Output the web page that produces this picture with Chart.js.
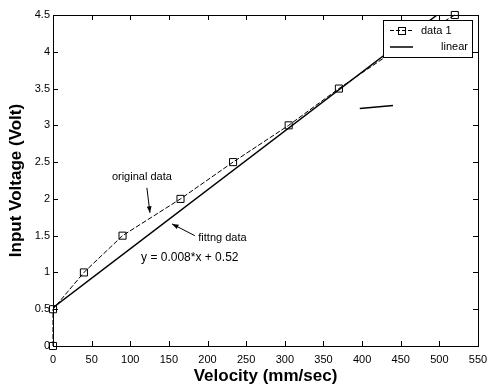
<!DOCTYPE html>
<html>
<head>
<meta charset="utf-8">
<script src="https://cdn.jsdelivr.net/npm/chart.js@4/dist/chart.umd.min.js"></script>
<style>
	body { margin: 0; background: #fff; }
	#caja { width: 488px; height: 387px; }
</style>
</head>
<body>
<div id="caja"><canvas id="GraficoVelocidad"></canvas></div>
<script>
// datos
var velocidad = [0, 0, 40, 90, 165, 233, 305, 370, 440, 520];
var voltaje = [0, 0.5, 1.0, 1.5, 2.0, 2.5, 3.0, 3.5, 4.0, 4.5];
// recta de ajuste y = 0.008*x + 0.52
var ajusteX = [0, 497];
var ajusteY = [0.52, 4.5];
// trazo suelto a la derecha
var trazoX = [397, 440];
var trazoY = [3.23, 3.27];
// ticks
var ticksX = [0, 50, 100, 150, 200, 250, 300, 350, 400, 450, 500, 550];
var ticksY = [0, 0.5, 1, 1.5, 2, 2.5, 3, 3.5, 4, 4.5];
var etiquetasY = ['0', '0.5', '1', '1.5', '2', '2.5', '3', '3.5', '4', '4.5'];
var nombresLeyenda = ['data 1', 'linear'];

var fuente = "'Liberation Sans', Arial, sans-serif";

function puntos(xs, ys) {
	var arr = [];
	for (var i = 0; i < xs.length; i++) arr.push({x: xs[i], y: ys[i]});
	return arr;
}

function flecha(ctx, x1, y1, x2, y2) {
	var ang = Math.atan2(y2 - y1, x2 - x1);
	ctx.beginPath();
	ctx.moveTo(x1, y1);
	ctx.lineTo(x2, y2);
	ctx.stroke();
	ctx.beginPath();
	ctx.moveTo(x2, y2);
	ctx.lineTo(x2 - 7 * Math.cos(ang - 0.35), y2 - 7 * Math.sin(ang - 0.35));
	ctx.lineTo(x2 - 7 * Math.cos(ang + 0.35), y2 - 7 * Math.sin(ang + 0.35));
	ctx.closePath();
	ctx.fill();
}

// marco, ticks hacia adentro, textos y leyenda
var estiloMatlab = {
	id: 'estiloMatlab',
	afterDraw: function(chart) {
		var ctx = chart.ctx;
		var a = chart.chartArea;
		var sx = chart.scales.x, sy = chart.scales.y;
		ctx.save();
		ctx.strokeStyle = '#000';
		ctx.fillStyle = '#000';
		ctx.lineWidth = 1;
		ctx.strokeRect(Math.round(a.left) + 0.5, Math.round(a.top) + 0.5, Math.round(a.right - a.left), Math.round(a.bottom - a.top));
		ctx.beginPath();
		ticksX.forEach(function(v) {
			var px = Math.round(sx.getPixelForValue(v)) + 0.5;
			ctx.moveTo(px, a.bottom); ctx.lineTo(px, a.bottom - 5);
			ctx.moveTo(px, a.top); ctx.lineTo(px, a.top + 5);
		});
		ticksY.forEach(function(v) {
			var py = Math.round(sy.getPixelForValue(v)) + 0.5;
			ctx.moveTo(a.left, py); ctx.lineTo(a.left + 5, py);
			ctx.moveTo(a.right, py); ctx.lineTo(a.right - 5, py);
		});
		ctx.stroke();

		// anotaciones
		ctx.textBaseline = 'middle';
		ctx.font = '11px ' + fuente;
		ctx.textAlign = 'center';
		ctx.fillText('original data', sx.getPixelForValue(115), sy.getPixelForValue(2.30));
		flecha(ctx, sx.getPixelForValue(121.5), sy.getPixelForValue(2.15), sx.getPixelForValue(125.5), sy.getPixelForValue(1.81));
		ctx.textAlign = 'left';
		ctx.fillText('fittng data', sx.getPixelForValue(188), sy.getPixelForValue(1.47));
		flecha(ctx, sx.getPixelForValue(183.5), sy.getPixelForValue(1.50), sx.getPixelForValue(154), sy.getPixelForValue(1.66));
		ctx.font = '12px ' + fuente;
		ctx.textAlign = 'center';
		ctx.fillText('y = 0.008*x + 0.52', sx.getPixelForValue(177), sy.getPixelForValue(1.20));

		// leyenda
		var lx = a.right - 95, ly = a.top + 5, lw = 89, lh = 37;
		ctx.fillStyle = '#fff';
		ctx.fillRect(lx, ly, lw, lh);
		ctx.strokeRect(Math.round(lx) + 0.5, Math.round(ly) + 0.5, lw, lh);
		ctx.fillStyle = '#000';
		ctx.beginPath();
		ctx.setLineDash([4, 2]);
		ctx.moveTo(lx + 7, ly + 10.5); ctx.lineTo(lx + 30, ly + 10.5);
		ctx.stroke();
		ctx.setLineDash([]);
		ctx.strokeRect(lx + 15.5, ly + 7.5, 7, 7);
		ctx.lineWidth = 1.5;
		ctx.beginPath();
		ctx.moveTo(lx + 7, ly + 27); ctx.lineTo(lx + 30, ly + 27);
		ctx.stroke();
		ctx.font = '11px ' + fuente;
		ctx.textAlign = 'left';
		ctx.fillText(nombresLeyenda[0], lx + 38, ly + 11);
		ctx.textAlign = 'right';
		ctx.fillText(nombresLeyenda[1], lx + lw - 4, ly + 27);
		ctx.restore();
	}
};

var myChartVelocidad = new Chart('GraficoVelocidad', {
	type: 'line',
	data: {
		datasets: [{
			label: nombresLeyenda[0],
			data: puntos(velocidad, voltaje),
			borderColor: '#000',
			borderWidth: 1,
			borderDash: [5, 2],
			pointStyle: 'rect',
			pointRadius: 5,
			pointBorderWidth: 1,
			pointBorderColor: '#000',
			pointBackgroundColor: 'rgba(0,0,0,0)',
			clip: false,
			tension: 0
		}, {
			label: nombresLeyenda[1],
			data: puntos(ajusteX, ajusteY),
			borderColor: '#000',
			borderWidth: 1.5,
			pointRadius: 0,
			tension: 0
		}, {
			label: 'trazo',
			data: puntos(trazoX, trazoY),
			borderColor: '#000',
			borderWidth: 1.5,
			pointRadius: 0
		}]
	},
	options: {
		animation: false,
		responsive: true,
		maintainAspectRatio: false,
		layout: { padding: { top: 15, right: 10, left: 0, bottom: 0 } },
		plugins: { legend: { display: false }, tooltip: { enabled: false } },
		scales: {
			x: {
				type: 'linear',
				min: 0, max: 550,
				afterFit: function(s) { s.height = 41; s.paddingLeft = 0; s.paddingRight = 0; },
				afterBuildTicks: function(s) { s.ticks = ticksX.map(function(v) { return {value: v}; }); },
				grid: { display: false, drawTicks: false },
				border: { display: false },
				ticks: { padding: 7, color: '#000', font: { size: 11, family: fuente }, maxRotation: 0, autoSkip: false },
				title: { display: true, text: 'Velocity (mm/sec)', color: '#000', font: { size: 17, weight: 'bold', family: fuente }, padding: { top: 0, bottom: 0 } }
			},
			y: {
				type: 'linear',
				min: 0, max: 4.5,
				afterFit: function(s) { s.width = 53; s.paddingTop = 0; s.paddingBottom = 0; },
				afterBuildTicks: function(s) { s.ticks = ticksY.map(function(v) { return {value: v}; }); },
				grid: { display: false, drawTicks: false },
				border: { display: false },
				ticks: {
					padding: 3, color: '#000', font: { size: 11, family: fuente }, autoSkip: false,
					callback: function(v) { return etiquetasY[ticksY.indexOf(v)]; }
				},
				title: { display: true, text: 'Input Voltage (Volt)', color: '#000', font: { size: 17, weight: 'bold', family: fuente }, padding: { top: 6, bottom: 0 } }
			}
		}
	},
	plugins: [estiloMatlab]
});	// cierre del grafico
</script>
</body>
</html>
